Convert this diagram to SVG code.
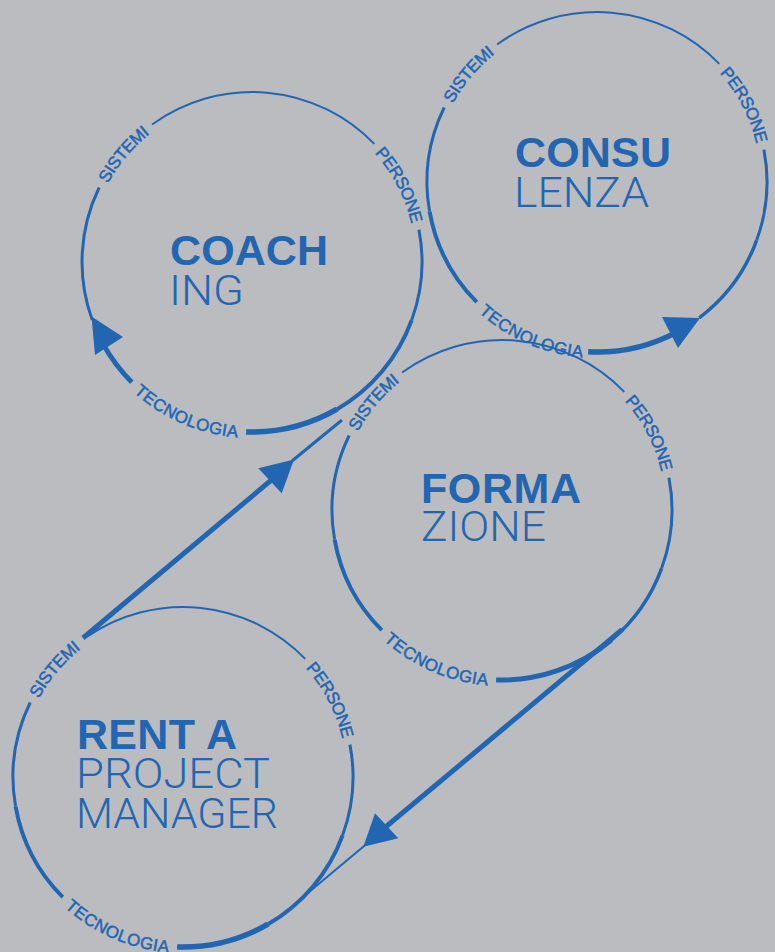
<svg xmlns="http://www.w3.org/2000/svg" width="775" height="952" viewBox="0 0 775 952">
<style>
.arc{fill:none;stroke:#2266b2;stroke-linecap:butt}
.w2{stroke-width:2}.w3{stroke-width:3}.w35{stroke-width:3.5}.w4{stroke-width:4}.w5{stroke-width:5}.w55{stroke-width:5.5}
.ah{fill:#2266b2}
.lbl{font-family:"Liberation Sans",Arial,sans-serif;font-size:17px;fill:#2266b2;stroke:#2266b2;stroke-width:0.5px;letter-spacing:0px}
.tb{font-family:"Liberation Sans",Arial,sans-serif;font-weight:700;font-size:43px;fill:#2266b2}
.tl{font-family:Roboto,"Liberation Sans",Arial,sans-serif;font-weight:300;font-size:42px;fill:#2266b2}
</style>
<defs>
<path id="cw1" d="M82,262 A170,170 0 1 1 422,262 A170,170 0 1 1 82,262"/>
<path id="ccw1" d="M82,262 A170,170 0 1 0 422,262 A170,170 0 1 0 82,262"/>
<path id="cw2" d="M427,182 A170,170 0 1 1 767,182 A170,170 0 1 1 427,182"/>
<path id="ccw2" d="M427,182 A170,170 0 1 0 767,182 A170,170 0 1 0 427,182"/>
<path id="cw3" d="M332,510 A170,170 0 1 1 672,510 A170,170 0 1 1 332,510"/>
<path id="ccw3" d="M332,510 A170,170 0 1 0 672,510 A170,170 0 1 0 332,510"/>
<path id="cw4" d="M13,777 A170,170 0 1 1 353,777 A170,170 0 1 1 13,777"/>
<path id="ccw4" d="M13,777 A170,170 0 1 0 353,777 A170,170 0 1 0 13,777"/>
</defs>
<rect width="775" height="952" fill="#bbbcc0"/>

<g id="coaching">
<path class="arc w2" d="M152.1,124.5 A170,170 0 0 1 374.3,143.9"/>
<path class="arc w3" d="M418.9,229.6 A170,170 0 0 1 411.7,320.1"/>
<path class="arc w4" d="M411.7,320.1 A170,170 0 0 1 337,409.2"/>
<path class="arc w55" d="M337,409.2 A170,170 0 0 1 246.1,431.9"/>
<path class="arc w5" d="M131.8,382.2 A170,170 0 0 1 103.3,344.4"/>
<path class="arc w3" d="M92.3,320.1 A170,170 0 0 1 99.2,187.5"/>
<polygon class="ah" points="95,355 123,337 91.5,316.5"/>
<text class="lbl" dy="6"><textPath href="#cw1" startOffset="11.11%" text-anchor="middle">SISTEMI</textPath></text>
<text class="lbl" dy="6"><textPath href="#cw1" startOffset="42.36%" text-anchor="middle">PERSONE</textPath></text>
<text class="lbl" dy="6"><textPath href="#ccw1" startOffset="18.47%" text-anchor="middle">TECNOLOGIA</textPath></text>
<text class="tb" x="170" y="265" textLength="158">COACH</text>
<text class="tl" x="169" y="305" textLength="75" lengthAdjust="spacingAndGlyphs">ING</text>
</g>

<g id="consulenza">
<path class="arc w2" d="M497.1,44.5 A170,170 0 0 1 719.3,63.9"/>
<path class="arc w3" d="M763.9,149.6 A170,170 0 0 1 756.7,240.1"/>
<path class="arc w35" d="M756.7,240.1 A170,170 0 0 1 699.3,317.8"/>
<path class="arc w55" d="M676.8,332.1 A170,170 0 0 1 588.1,351.8"/>
<path class="arc w4" d="M476.8,302.2 A170,170 0 0 1 429.6,211.5"/>
<path class="arc w3" d="M429.6,211.5 A170,170 0 0 1 444.2,107.5"/>
<polygon class="ah" points="662,317 678,348 700,318"/>
<text class="lbl" dy="6"><textPath href="#cw2" startOffset="11.11%" text-anchor="middle">SISTEMI</textPath></text>
<text class="lbl" dy="6"><textPath href="#cw2" startOffset="42.36%" text-anchor="middle">PERSONE</textPath></text>
<text class="lbl" dy="6"><textPath href="#ccw2" startOffset="18.47%" text-anchor="middle">TECNOLOGIA</textPath></text>
<text class="tb" x="515" y="167" textLength="156">CONSU</text>
<text class="tl" x="514" y="207" textLength="135" lengthAdjust="spacingAndGlyphs">LENZA</text>
</g>

<g id="formazione">
<path class="arc w2" d="M402.1,372.5 A170,170 0 0 1 624.3,391.9"/>
<path class="arc w3" d="M668.9,477.6 A170,170 0 0 1 661.7,568.1"/>
<path class="arc w35" d="M661.7,568.1 A170,170 0 0 1 611.3,640.2"/>
<path class="arc w5" d="M611.3,640.2 A170,170 0 0 1 496.1,679.9"/>
<path class="arc w4" d="M381.8,630.2 A170,170 0 0 1 334.6,539.5"/>
<path class="arc w3" d="M334.6,539.5 A170,170 0 0 1 349.2,435.5"/>
<text class="lbl" dy="6"><textPath href="#cw3" startOffset="11.11%" text-anchor="middle">SISTEMI</textPath></text>
<text class="lbl" dy="6"><textPath href="#cw3" startOffset="42.36%" text-anchor="middle">PERSONE</textPath></text>
<text class="lbl" dy="6"><textPath href="#ccw3" startOffset="18.47%" text-anchor="middle">TECNOLOGIA</textPath></text>
<text class="tb" x="421" y="503" textLength="160">FORMA</text>
<text class="tl" x="421" y="541" textLength="125" lengthAdjust="spacingAndGlyphs">ZIONE</text>
</g>

<g id="rent-a-project-manager">
<path class="arc w2" d="M87.9,636.1 A170,170 0 0 1 305.3,658.9"/>
<path class="arc w3" d="M349.9,744.6 A170,170 0 0 1 342.7,835.1"/>
<path class="arc w4" d="M342.7,835.1 A170,170 0 0 1 268,924.2"/>
<path class="arc w55" d="M268,924.2 A170,170 0 0 1 177.1,946.9"/>
<path class="arc w4" d="M62.8,897.2 A170,170 0 0 1 15.6,806.5"/>
<path class="arc w3" d="M15.6,806.5 A170,170 0 0 1 30.2,702.5"/>
<text class="lbl" dy="6"><textPath href="#cw4" startOffset="11.11%" text-anchor="middle">SISTEMI</textPath></text>
<text class="lbl" dy="6"><textPath href="#cw4" startOffset="42.36%" text-anchor="middle">PERSONE</textPath></text>
<text class="lbl" dy="6"><textPath href="#ccw4" startOffset="18.47%" text-anchor="middle">TECNOLOGIA</textPath></text>
<text class="tb" x="77" y="749" textLength="160">RENT A</text>
<text class="tl" x="76" y="788" textLength="194" lengthAdjust="spacingAndGlyphs">PROJECT</text>
<text class="tl" x="76" y="828" textLength="202" lengthAdjust="spacingAndGlyphs">MANAGER</text>
</g>

<g id="connectors">
<path class="arc w5" d="M83,638 L272,479.5"/>
<polygon class="ah" points="258.3,468.3 281.7,493.3 294,459.5"/>
<path class="arc w3" d="M292,461 L342,420"/>
<path class="arc w5" d="M622,629.6 L385,827.5"/>
<polygon class="ah" points="375,813.3 398.3,838.3 363.3,846.7"/>
<path class="arc w2" d="M365,845.3 L298,901.2"/>
</g>
</svg>
